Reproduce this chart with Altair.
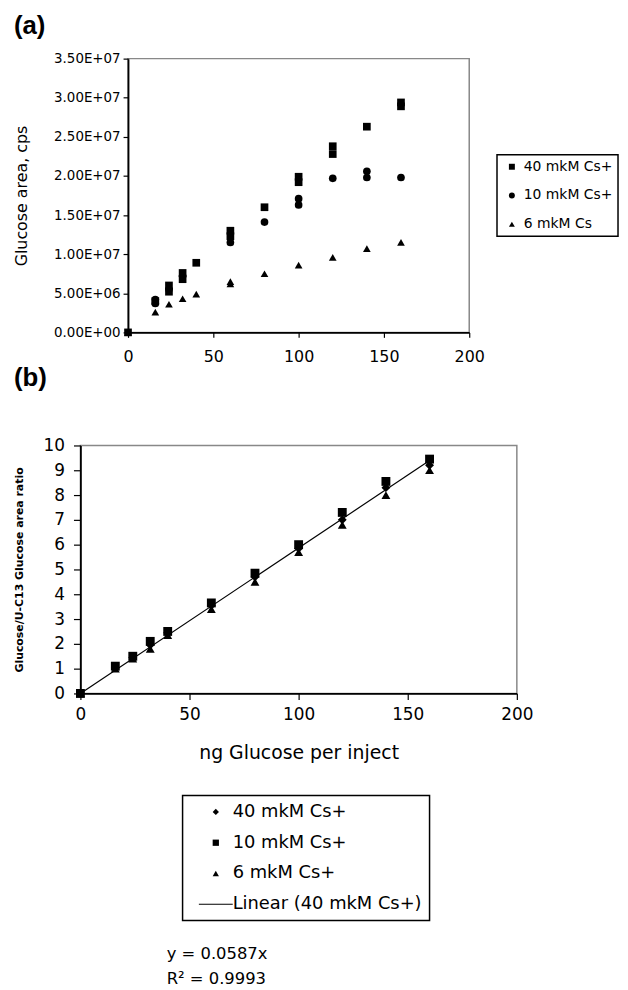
import altair as alt
import pandas as pd

FONT = "DejaVu Sans"
TFONT = "Liberation Sans"

# ---------------- Panel (a): Glucose area, cps ----------------
series_a = ["40 mkM Cs+", "10 mkM Cs+", "6 mkM Cs"]
shapes_a = ["square", "circle", "triangle-up"]

a40_x = [0, 16, 24, 24, 32, 32, 40, 60, 60, 80, 100, 100, 120, 120, 140, 160, 160]
a40_y = [0, 4.0e6, 6.0e6, 5.2e6, 7.6e6, 6.8e6, 8.9e6, 13.0e6, 12.3e6, 16.0e6,
         19.9e6, 19.2e6, 23.8e6, 22.8e6, 26.3e6, 29.4e6, 28.9e6]
a10_x = [16, 16, 24, 32, 60, 80, 100, 100, 120, 140, 140, 160]
a10_y = [4.2e6, 3.7e6, 5.5e6, 7.2e6, 11.5e6, 14.1e6, 17.1e6, 16.3e6, 19.7e6,
         20.6e6, 19.8e6, 19.8e6]
a6_x = [0, 16, 24, 32, 40, 60, 60, 80, 100, 120, 140, 160]
a6_y = [0, 2.6e6, 3.6e6, 4.3e6, 4.9e6, 6.5e6, 6.2e6, 7.5e6, 8.6e6, 9.6e6,
        10.7e6, 11.5e6]

a_xticks = [0, 50, 100, 150, 200]
a_yticks = [0, 5e6, 1e7, 1.5e7, 2e7, 2.5e7, 3e7, 3.5e7]

# ---------------- Panel (b): area ratio ----------------
series_b = ["40 mkM Cs+", "10 mkM Cs+", "6 mkM Cs+", "Linear (40 mkM Cs+)"]
shapes_b = ["diamond", "square", "triangle-up", "M-5.4,-0.17H5.4V0.17H-5.4Z"]

b_x = [0, 16, 24, 32, 40, 60, 80, 100, 120, 140, 160]
b40_y = [0, 1.05, 1.45, 1.95, 2.45, 3.55, 4.7, 5.85, 7.0, 8.3, 9.2]
b10_y = [0, 1.1, 1.5, 2.1, 2.5, 3.65, 4.85, 6.0, 7.3, 8.55, 9.45]
b6_y = [0, 1.0, 1.4, 1.8, 2.35, 3.4, 4.5, 5.7, 6.8, 8.0, 9.0]

trend_x = [0, 160]
trend_y = [0.0, 9.39]

b_xticks = [0, 50, 100, 150, 200]
b_yticks = [0, 1, 2, 3, 4, 5, 6, 7, 8, 9, 10]

eq_line1 = "y = 0.0587x"
eq_line2 = "R² = 0.9993"

# ---------------- data frames ----------------
df_a = pd.concat([
    pd.DataFrame({"x": a40_x, "y": a40_y, "series": series_a[0]}),
    pd.DataFrame({"x": a10_x, "y": a10_y, "series": series_a[1]}),
    pd.DataFrame({"x": a6_x, "y": a6_y, "series": series_a[2]}),
], ignore_index=True)

df_b = pd.concat([
    pd.DataFrame({"x": b_x, "y": b40_y, "series": series_b[0]}),
    pd.DataFrame({"x": b_x, "y": b10_y, "series": series_b[1]}),
    pd.DataFrame({"x": b_x, "y": b6_y, "series": series_b[2]}),
], ignore_index=True)

df_t = pd.DataFrame({"x": trend_x, "y": trend_y})

# ---------------- panel (a) ----------------
chart_a = alt.Chart(df_a).mark_point(filled=True, color="black", opacity=1, size=60).encode(
    x=alt.X("x:Q", scale=alt.Scale(domain=[0, 200], nice=False),
            axis=alt.Axis(values=a_xticks, title=None, labelFontSize=16,
                          tickSize=5, labelPadding=11, labelFlush=False)),
    y=alt.Y("y:Q", scale=alt.Scale(domain=[0, 3.5e7], nice=False),
            axis=alt.Axis(values=a_yticks, title="Glucose area, cps",
                          labelExpr="replace(format(datum.value, '.2e'), 'e+', 'E+0')",
                          labelFontSize=13.5, tickSize=5, labelPadding=3,
                          titleFontSize=16, titleFontWeight="normal",
                          titleX=-99)),
    shape=alt.Shape("series:N", scale=alt.Scale(domain=series_a, range=shapes_a),
                    legend=alt.Legend(title=None, orient="none", legendX=372, legendY=97,
                                      labelFontSize=14, labelFont=FONT, symbolSize=36,
                                      strokeColor="black", fillColor="white", padding=5,
                                      rowPadding=15, symbolOffset=3, labelOffset=5,
                                      symbolFillColor="black", symbolStrokeWidth=0)),
).properties(
    width=344, height=276,
    title=alt.TitleParams("(a)", anchor="start", frame="bounds", fontSize=26,
                          fontWeight="bold", font=TFONT, offset=13),
)

# ---------------- panel (b) ----------------
x_b = alt.X("x:Q", scale=alt.Scale(domain=[0, 200], nice=False),
            axis=alt.Axis(values=b_xticks, title="ng Glucose per inject", labelFontSize=17,
                          tickSize=6, labelPadding=7, labelFlush=False,
                          titleFontSize=19, titleFontWeight="normal", titlePadding=22))
y_b = alt.Y("y:Q", scale=alt.Scale(domain=[0, 10], nice=False),
            axis=alt.Axis(values=b_yticks, title="Glucose/U-C13 Glucose area ratio",
                          labelFontSize=17, tickSize=7, labelPadding=9, labelOverlap=False,
                          titleFontSize=11, titleFontWeight="bold", titleX=-56))

pts_b = alt.Chart(df_b).mark_point(
    filled=True, color="black", opacity=1, size=80
).encode(
    x=x_b, y=y_b,
    shape=alt.Shape("series:N", scale=alt.Scale(domain=series_b, range=shapes_b),
                    legend=alt.Legend(title=None, orient="none", legendX=103, legendY=353,
                                      labelFontSize=18, labelFont=FONT, symbolSize=40,
                                      labelLimit=400,
                                      strokeColor="black", fillColor="white", padding=7.5,
                                      rowPadding=13, symbolOffset=17, labelOffset=8,
                                      symbolFillColor="black", symbolStrokeWidth=0)),
)

line_b = alt.Chart(df_t).mark_line(color="black", strokeWidth=1.2).encode(x=x_b, y=y_b)

eq1 = alt.Chart(pd.DataFrame({"t": [eq_line1]})).mark_text(
    align="left", baseline="middle", font=FONT, fontSize=16.5, color="black"
).encode(text="t:N", x=alt.value(87), y=alt.value(513))

eq2 = alt.Chart(pd.DataFrame({"t": [eq_line2]})).mark_text(
    align="left", baseline="middle", font=FONT, fontSize=16.5, color="black"
).encode(text="t:N", x=alt.value(87), y=alt.value(538))

chart_b = alt.layer(line_b, pts_b, eq1, eq2).properties(
    width=440, height=250,
    title=alt.TitleParams("(b)", anchor="start", frame="bounds", fontSize=26,
                          fontWeight="bold", font=TFONT, offset=46),
)

chart = alt.concat(chart_a, chart_b, columns=1, spacing=114, center=True,
                   bounds="flush").resolve_scale(
    shape="independent", x="independent", y="independent"
).properties(
    padding={"left": 5, "top": 0, "right": 0, "bottom": 5},
).configure(
    font=FONT,
).configure_view(
    stroke="#888888", strokeWidth=1.5,
).configure_axis(
    grid=False, domainColor="black", domainWidth=1.8, tickColor="black", tickWidth=1.2,
    labelColor="black", titleColor="black", labelFont=FONT, titleFont=FONT,
).configure_legend(
    strokeWidth=1.5,
)

chart.save("out.html", embed_options={"renderer": "svg", "actions": False})
